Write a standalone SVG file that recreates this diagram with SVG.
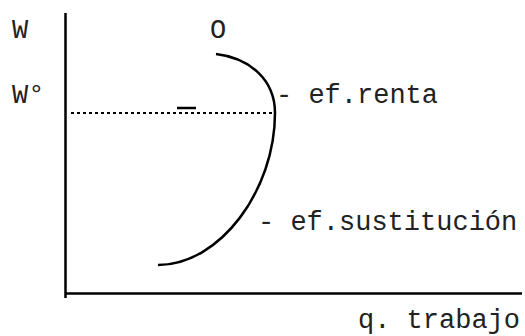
<svg xmlns="http://www.w3.org/2000/svg" width="525" height="336" viewBox="0 0 525 336">
<style>
text{font-family:"Liberation Mono","Courier New",monospace;font-size:27px;fill:#222}
.ax{stroke:#000;stroke-width:2.5;fill:none}
</style>
<rect width="525" height="336" fill="#fff"/>
<g id="axes">
<line class="ax" x1="65.5" y1="13" x2="65.5" y2="298"/>
<line class="ax" x1="65" y1="293.5" x2="522" y2="293.5"/>
</g>
<g id="labels">
<text x="12" y="38">W</text>
<text x="12" y="103">W°</text>
<text x="210" y="38">O</text>
<text x="276" y="103">- ef.renta</text>
<text x="258" y="230">- ef.sustitución</text>
<text x="358" y="328">q. trabajo</text>
</g>
<g id="connectors">
<line x1="71" y1="113" x2="274" y2="113" stroke="#000" stroke-width="2" stroke-dasharray="3,3"/>
<line x1="177" y1="108" x2="196" y2="108" stroke="#000" stroke-width="2.5"/>
<path class="ax" d="M216,54 C250,58 275,80 275,113 C275,190 220,265 158,265"/>
</g>
</svg>
